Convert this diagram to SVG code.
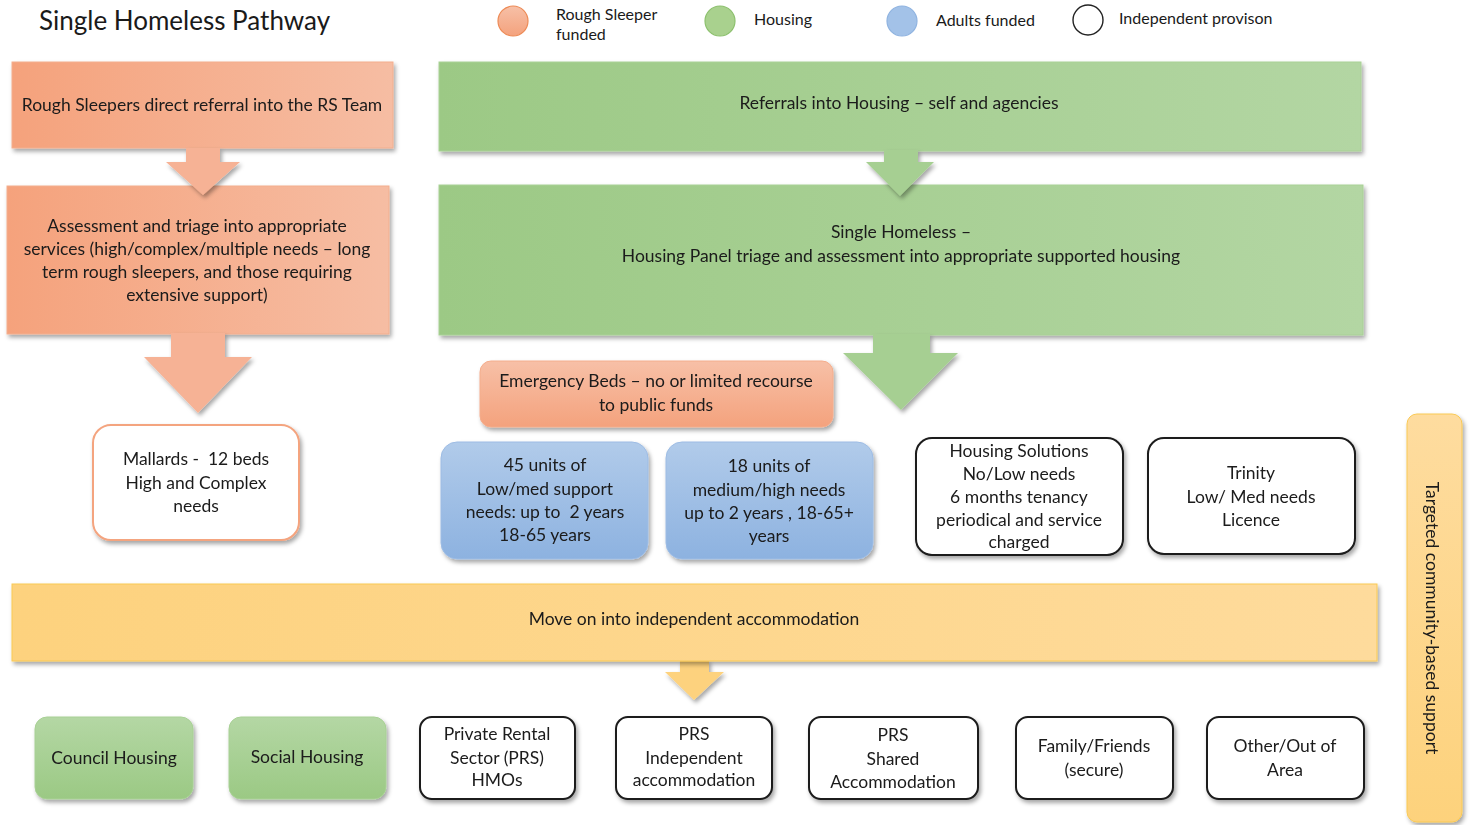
<svg xmlns="http://www.w3.org/2000/svg" width="1474" height="825" viewBox="0 0 1474 825">
<defs>
<style>
text{font-family:Lato,"Liberation Sans",sans-serif;fill:#1a1a1a;font-size:17.5px;text-anchor:middle}
.pre{white-space:pre}
.lg{font-size:16px;text-anchor:start}
.title{font-size:26px;text-anchor:start}
.wbox{fill:#fff;stroke:#1a1a1a;stroke-width:2}
</style>
<filter id="sh" x="-10%" y="-10%" width="130%" height="140%">
<feDropShadow dx="2" dy="3" stdDeviation="2.2" flood-color="#000" flood-opacity="0.35"/>
</filter>
<linearGradient id="gOr" x1="0" y1="0" x2="1" y2="0"><stop offset="0" stop-color="#f5a27c"/><stop offset="1" stop-color="#f6bda3"/></linearGradient>
<linearGradient id="gOrV" x1="0" y1="0" x2="0" y2="1"><stop offset="0" stop-color="#f7c0a7"/><stop offset="1" stop-color="#f4a27d"/></linearGradient>
<linearGradient id="gGr" x1="0" y1="0" x2="1" y2="0"><stop offset="0" stop-color="#9cc985"/><stop offset="1" stop-color="#b3d6a3"/></linearGradient>
<linearGradient id="gGrV" x1="0" y1="0" x2="0" y2="1"><stop offset="0" stop-color="#b4d7a4"/><stop offset="1" stop-color="#9bc984"/></linearGradient>
<linearGradient id="gBl" x1="0" y1="0" x2="0" y2="1"><stop offset="0" stop-color="#b1cbea"/><stop offset="1" stop-color="#8db2e0"/></linearGradient>
<linearGradient id="gYe" x1="0" y1="0" x2="1" y2="0"><stop offset="0" stop-color="#fdd27e"/><stop offset="1" stop-color="#fedb9c"/></linearGradient>
<linearGradient id="gYeV" x1="0" y1="0" x2="0" y2="1"><stop offset="0" stop-color="#fedc9f"/><stop offset="1" stop-color="#fdd27c"/></linearGradient>
</defs>
<rect width="1474" height="825" fill="#fff"/>

<g id="legend">
<text class="title" x="39" y="30">Single Homeless Pathway</text>
<circle cx="513" cy="21" r="15" fill="url(#gOrV)" stroke="#ed8a55" stroke-width="1.2"/>
<text class="lg" x="556" y="20">Rough Sleeper</text>
<text class="lg" x="556" y="40">funded</text>
<circle cx="720" cy="21" r="15" fill="#a9d18e" stroke="#8cc06d" stroke-width="1.2"/>
<text class="lg" x="754" y="25">Housing</text>
<circle cx="902" cy="21" r="15" fill="#a3c2e8" stroke="#8fb3e0" stroke-width="1.2"/>
<text class="lg" x="936" y="26">Adults funded</text>
<circle cx="1088" cy="20" r="15" fill="#fff" stroke="#222" stroke-width="1.4"/>
<text class="lg" x="1119" y="24">Independent provison</text>
</g>

<g id="rs-referral" filter="url(#sh)">
<rect x="12" y="62" width="381" height="86" fill="url(#gOr)" stroke="#f3ae8e" stroke-width="1"/>
<text x="202" y="111">Rough Sleepers direct referral into the RS Team</text>
</g>
<g id="rs-assessment" filter="url(#sh)">
<rect x="7" y="186" width="382" height="148" fill="url(#gOr)" stroke="#f3ae8e" stroke-width="1"/>
<text x="197" y="232">Assessment and triage into appropriate</text>
<text x="197" y="255">services (high/complex/multiple needs – long</text>
<text x="197" y="278">term rough sleepers, and those requiring</text>
<text x="197" y="301">extensive support)</text>
</g>
<g id="housing-referrals" filter="url(#sh)">
<rect x="439" y="62" width="922" height="89" fill="url(#gGr)" stroke="#a9d196" stroke-width="1"/>
<text x="899" y="109">Referrals into Housing – self and agencies</text>
</g>
<g id="housing-panel" filter="url(#sh)">
<rect x="439" y="185" width="924" height="150" fill="url(#gGr)" stroke="#a9d196" stroke-width="1"/>
<text x="901" y="238">Single Homeless –</text>
<text x="901" y="262">Housing Panel triage and assessment into appropriate supported housing</text>
</g>

<g id="connectors" filter="url(#sh)">
<polygon points="186,148 220,148 220,162 240,162 203,195 166,162 186,162" fill="#f6b295"/>
<polygon points="171,333 225,333 225,357 252,357 198,413 144,357 171,357" fill="#f6b295"/>
<polygon points="884,150 918,150 918,162 934,162 900,196 866,162 884,162" fill="#a6cf92"/>
<polygon points="873,334 930,334 930,353 958,353 901,410 843,353 873,353" fill="#a6cf92"/>
<polygon points="680,660 709,660 709,672 724,672 694,700 665,672 680,672" fill="#fdd27e"/>
</g>

<g id="mallards" filter="url(#sh)">
<rect x="93" y="425" width="206" height="115" rx="18" fill="#fff" stroke="#f4a47f" stroke-width="2"/>
<text class="pre" x="196" y="465">Mallards -  12 beds</text>
<text x="196" y="489">High and Complex</text>
<text x="196" y="512">needs</text>
</g>
<g id="emergency-beds" filter="url(#sh)">
<rect x="480" y="361" width="353" height="66" rx="11" fill="url(#gOrV)" stroke="#f4ad8c" stroke-width="1"/>
<text x="656" y="387">Emergency Beds – no or limited recourse</text>
<text x="656" y="411">to public funds</text>
</g>
<g id="units-45" filter="url(#sh)">
<rect x="441" y="442" width="207" height="117" rx="16" fill="url(#gBl)" stroke="#9dbce4" stroke-width="1"/>
<text x="545" y="471">45 units of</text>
<text x="545" y="495">Low/med support</text>
<text class="pre" x="545" y="518">needs: up to  2 years</text>
<text x="545" y="541">18-65 years</text>
</g>
<g id="units-18" filter="url(#sh)">
<rect x="666" y="442" width="207" height="117" rx="16" fill="url(#gBl)" stroke="#9dbce4" stroke-width="1"/>
<text x="769" y="472">18 units of</text>
<text x="769" y="496">medium/high needs</text>
<text x="769" y="519">up to 2 years , 18-65+</text>
<text x="769" y="542">years</text>
</g>
<g id="housing-solutions" filter="url(#sh)">
<rect class="wbox" x="916" y="438" width="207" height="117" rx="16"/>
<text x="1019" y="457">Housing Solutions</text>
<text x="1019" y="480">No/Low needs</text>
<text x="1019" y="503">6 months tenancy</text>
<text x="1019" y="526">periodical and service</text>
<text x="1019" y="548">charged</text>
</g>
<g id="trinity" filter="url(#sh)">
<rect class="wbox" x="1148" y="438" width="207" height="116" rx="16"/>
<text x="1251" y="479">Trinity</text>
<text x="1251" y="503">Low/ Med needs</text>
<text x="1251" y="526">Licence</text>
</g>

<g id="move-on" filter="url(#sh)">
<rect x="12" y="584" width="1365" height="77" fill="url(#gYe)" stroke="#f9c955" stroke-width="1"/>
<text x="694" y="625">Move on into independent accommodation</text>
</g>

<g id="council-housing" filter="url(#sh)">
<rect x="35" y="717" width="158" height="82" rx="12" fill="url(#gGrV)" stroke="#a8d095" stroke-width="1"/>
<text x="114" y="764">Council Housing</text>
</g>
<g id="social-housing" filter="url(#sh)">
<rect x="229" y="717" width="157" height="82" rx="12" fill="url(#gGrV)" stroke="#a8d095" stroke-width="1"/>
<text x="307" y="763">Social Housing</text>
</g>
<g id="prs-hmos" filter="url(#sh)">
<rect class="wbox" x="420" y="717" width="155" height="82" rx="12"/>
<text x="497" y="740">Private Rental</text>
<text x="497" y="764">Sector (PRS)</text>
<text x="497" y="786">HMOs</text>
</g>
<g id="prs-independent" filter="url(#sh)">
<rect class="wbox" x="616" y="717" width="156" height="82" rx="12"/>
<text x="694" y="740">PRS</text>
<text x="694" y="764">Independent</text>
<text x="694" y="786">accommodation</text>
</g>
<g id="prs-shared" filter="url(#sh)">
<rect class="wbox" x="809" y="717" width="169" height="82" rx="12"/>
<text x="893" y="741">PRS</text>
<text x="893" y="765">Shared</text>
<text x="893" y="788">Accommodation</text>
</g>
<g id="family-friends" filter="url(#sh)">
<rect class="wbox" x="1016" y="717" width="157" height="82" rx="12"/>
<text x="1094" y="752">Family/Friends</text>
<text x="1094" y="776">(secure)</text>
</g>
<g id="other-area" filter="url(#sh)">
<rect class="wbox" x="1207" y="717" width="157" height="82" rx="12"/>
<text x="1285" y="752">Other/Out of</text>
<text x="1285" y="776">Area</text>
</g>

<g id="community-support" filter="url(#sh)">
<rect x="1407" y="414" width="55" height="408" rx="10" fill="url(#gYeV)" stroke="#f9c955" stroke-width="1"/>
<text x="1432" y="618" transform="rotate(90 1432 618)" dy="6">Targeted community-based support</text>
</g>
</svg>
